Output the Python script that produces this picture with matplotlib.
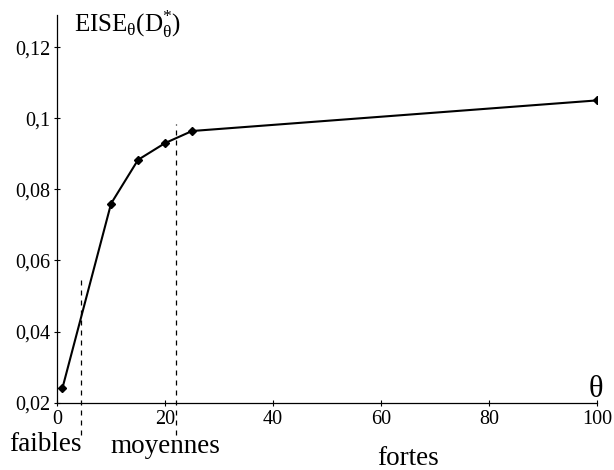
import matplotlib.pyplot as plt

plt.rcParams['font.family'] = ['Liberation Serif', 'DejaVu Serif']
plt.rcParams['mathtext.fontset'] = 'stix'

# données
theta = [1, 10, 15, 20, 25, 100]
eise = [0.0242, 0.076, 0.0883, 0.093, 0.0964, 0.105]
x_ticks = [0, 20, 40, 60, 80, 100]
y_ticks = [0.02, 0.04, 0.06, 0.08, 0.10, 0.12]
y_labels = ['0,02', '0,04', '0,06', '0,08', '0,1', '0,12']
seuils = [4.5, 22]
seuils_haut = [0.0548, 0.0983]
zones = ['faibles', 'moyennes', 'fortes']
zones_x = [-2.2, 20, 65]
zones_y = [0.0065, 0.006, 0.0025]

fig = plt.figure(figsize=(6.14, 4.70), dpi=100)
ax = fig.add_axes([0.093, 0.143, 0.879, 0.825])

ax.plot(theta, eise, color='black', linewidth=1.5, marker='D', markersize=4.5)

for xs, yh in zip(seuils, seuils_haut):
    ax.plot([xs, xs], [0.011, yh], color='black', linestyle=(0, (4, 4)),
            linewidth=0.9, clip_on=False)

ax.set_xlim(0, 100)
ax.set_ylim(0.02, 0.129)
ax.spines['top'].set_visible(False)
ax.spines['right'].set_visible(False)
ax.spines['left'].set_linewidth(0.9)
ax.spines['bottom'].set_linewidth(0.9)
ax.set_xticks(x_ticks)
ax.set_yticks(y_ticks)
ax.set_yticklabels(y_labels)
ax.tick_params(direction='inout', length=4, width=0.8, labelsize=14.5, pad=3)

ax.text(3.1, 0.1242, r'$\mathregular{EISE_{θ}(D^{*}_{θ})}$', fontsize=18,
        va='baseline', ha='left')
ax.text(99.8, 0.0217, 'θ', fontsize=22, ha='center', va='baseline')

for nom, xz, yz in zip(zones, zones_x, zones_y):
    ax.text(xz, yz, nom, fontsize=19.5, ha='center', va='baseline', clip_on=False)

fig.savefig('out.png', dpi=100)
